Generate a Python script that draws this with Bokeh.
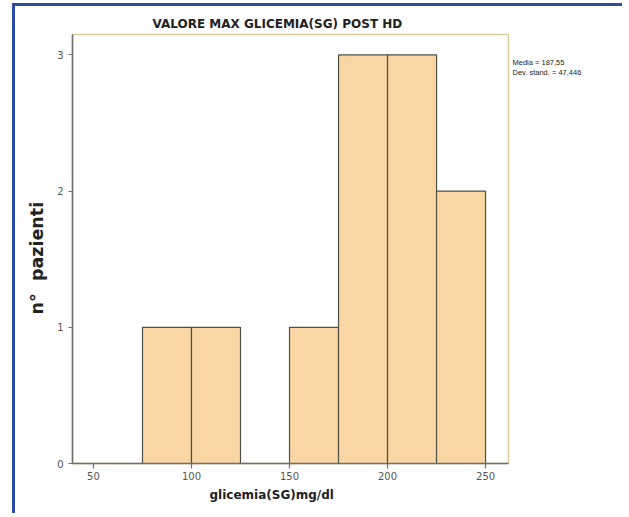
from bokeh.plotting import figure
from bokeh.models import Range1d, FixedTicker, LinearAxis
from bokeh.embed import file_html
from bokeh.resources import INLINE

# ---- data ----
bin_left = [75, 100, 150, 175, 200, 225]
bin_right = [100, 125, 175, 200, 225, 250]
counts = [1, 1, 1, 3, 3, 2]
x_ticks = [50, 100, 150, 200, 250]
y_ticks = [0, 1, 2, 3]
title_text = "VALORE MAX GLICEMIA(SG) POST HD"
x_label = "glicemia(SG)mg/dl"
y_label = "n\u00b0\u00a0\u00a0pazienti"
stats_lines = ["Media = 187,55", "Dev. stand. = 47,446"]

# layout constants (vertical placement of the stats text, in y-axis units)
stats_pos = [2.941, 2.868]

BOLD_FONT = "DejaVu Sans"
FONT = "DejaVu Sans"
SMALL_FONT = "Liberation Sans"
NB = "\u00a0"

p = figure(width=610, height=510, output_backend="svg", toolbar_location=None,
           x_range=Range1d(39.3, 261.7), y_range=Range1d(0, 3.15),
           min_border_left=57, min_border_right=117, min_border_top=28, min_border_bottom=53)
p.styles = {"margin-left": "12px", "margin-top": "3px",
            "border-left": "3px solid #2e4ca6", "border-top": "3px solid #2e4ca6"}

p.background_fill_color = "white"
p.border_fill_color = "white"
p.outline_line_color = "#d8cb9c"
p.outline_line_width = 1.5
p.xgrid.visible = False
p.ygrid.visible = False

p.title.text = title_text
p.title.align = "left"
p.title.offset = 80
p.title.standoff = 8
p.title.text_line_height = 1.0
p.title.text_font = BOLD_FONT
p.title.text_font_size = "12px"
p.title.text_font_style = "bold"
p.title.text_color = "#222222"

p.quad(left=bin_left, right=bin_right, top=counts, bottom=0,
       fill_color="#f9d6a3", line_color="#4f4f45", line_width=1.2)

for ax in (p.xaxis[0], p.yaxis[0]):
    ax.axis_line_color = "#6e6e6e"
    ax.axis_line_width = 1.5
    ax.major_tick_line_color = "#6e6e6e"
    ax.major_tick_line_width = 1.2
    ax.major_tick_in = 0
    ax.minor_tick_line_color = None
    ax.major_label_text_font = FONT
    ax.major_label_text_font_size = "10px"
    ax.major_label_text_color = "#555555"
    ax.axis_label_text_font = BOLD_FONT
    ax.axis_label_text_font_style = "bold"
    ax.axis_label_text_color = "#222222"

p.xaxis.ticker = FixedTicker(ticks=x_ticks)
p.yaxis.ticker = FixedTicker(ticks=y_ticks)
p.yaxis.major_label_orientation = "horizontal"
p.xaxis.major_tick_out = 5
p.xaxis.major_label_standoff = 3
p.yaxis.major_tick_out = 4
p.yaxis.major_label_standoff = 5

p.xaxis.axis_label = x_label + NB * 9
p.xaxis.axis_label_text_font_size = "12px"
p.xaxis.axis_label_standoff = 5
p.yaxis.axis_label = y_label + NB * 3
p.yaxis.axis_label_text_font_size = "17.5px"
p.yaxis.axis_label_standoff = 7

# stats text shown as labels of a bare right-hand axis
stats_axis = LinearAxis(ticker=FixedTicker(ticks=stats_pos),
                        major_label_overrides={v: t for v, t in zip(stats_pos, stats_lines)},
                        axis_line_color=None, major_tick_line_color=None,
                        minor_tick_line_color=None, major_tick_out=0, major_tick_in=0,
                        major_label_standoff=4, major_label_orientation="horizontal",
                        major_label_text_font=SMALL_FONT, major_label_text_font_size="7.5px",
                        major_label_text_color="#222222")
p.add_layout(stats_axis, "right")

open("out.html", "w").write(file_html(p, INLINE))
